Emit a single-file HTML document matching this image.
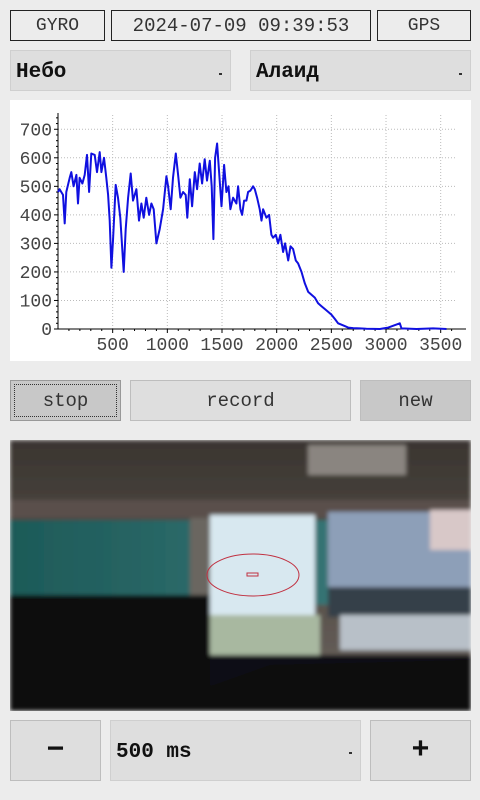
<!DOCTYPE html>
<html><head><meta charset="utf-8">
<style>
body{margin:0;width:480px;height:800px;background:#ececec;font-family:"Liberation Mono","DejaVu Sans Mono",monospace;position:relative;overflow:hidden}
.b{position:absolute;box-sizing:border-box;display:flex;align-items:center;justify-content:center;color:#333}
.lbl{border:1px solid #222;font-size:18px;background:#ececec}
.dd{background:#dedede;border:1px solid #cfcfcf;font-weight:bold;font-size:21px;justify-content:flex-start;padding-left:5px;padding-top:4px;color:#111}
.arr{position:absolute;right:8px;top:22px;width:3px;height:2px;background:#333}
.btn{border:1px solid #bdbdbd;font-size:19px}
</style></head><body>
<div class="b lbl" style="left:10px;top:10px;width:95px;height:31px">GYRO</div>
<div class="b lbl" style="left:111px;top:10px;width:260px;height:31px;font-size:19px">2024-07-09 09:39:53</div>
<div class="b lbl" style="left:377px;top:10px;width:94px;height:31px">GPS</div>
<div class="b dd" style="left:10px;top:50px;width:221px;height:41px">Небо<span class="arr"></span></div>
<div class="b dd" style="left:250px;top:50px;width:221px;height:41px">Алаид<span class="arr"></span></div>
<svg id="chart" style="position:absolute;left:10px;top:100px" width="461" height="261"></svg>
<div class="b btn" style="left:10px;top:380px;width:111px;height:41px;background:#c8c8c8;border:1px solid #999"><span style="border:1px dotted #333;position:absolute;left:3px;top:3px;right:3px;bottom:3px"></span>stop</div>
<div class="b btn" style="left:130px;top:380px;width:221px;height:41px;background:#dedede">record</div>
<div class="b btn" style="left:360px;top:380px;width:111px;height:41px;background:#c8c8c8">new</div>
<svg style="position:absolute;left:10px;top:440px" width="461" height="271">
<defs><linearGradient id="ceil" x1="0" y1="0" x2="0" y2="1"><stop offset="0" stop-color="#3a3530"/><stop offset="1" stop-color="#6e6660"/></linearGradient>
<linearGradient id="teal" x1="0" y1="0" x2="1" y2="0"><stop offset="0" stop-color="#1d5a58"/><stop offset="1" stop-color="#3f7f80"/></linearGradient>
<filter id="bl"><feGaussianBlur stdDeviation="2"/></filter></defs>
<g filter="url(#bl)">
<rect width="461" height="271" fill="url(#ceil)"/>
<rect x="298" y="5" width="98" height="30" fill="#8a8580"/>
<rect x="0" y="60" width="461" height="18" fill="#5a4f4c"/>
<rect x="0" y="80" width="461" height="85" fill="url(#teal)"/>
<rect x="180" y="78" width="30" height="100" fill="#6a6660"/>
<rect x="200" y="75" width="105" height="100" fill="#d8e8f0"/>
<rect x="318" y="72" width="143" height="75" fill="#8d9fb8"/>
<rect x="318" y="147" width="143" height="30" fill="#35404a"/>
<rect x="420" y="70" width="41" height="40" fill="#d8c8c8"/>
<rect x="200" y="175" width="110" height="40" fill="#a8b8a0"/>
<rect x="330" y="175" width="131" height="35" fill="#b8c0c8"/>
<rect x="0" y="155" width="200" height="116" fill="#0a0a0c"/>
<rect x="200" y="215" width="261" height="56" fill="#0e1014"/>
<polygon points="190,250 260,225 461,220 461,271 190,271" fill="#08090c"/>
</g>
<ellipse cx="243" cy="135" rx="46" ry="21" fill="none" stroke="#c03040" stroke-width="1"/>
<rect x="237" y="133" width="11" height="3" fill="none" stroke="#c03040" stroke-width="1"/>
</svg>
<div class="b btn" style="left:10px;top:720px;width:91px;height:61px;background:#dedede;font-size:30px;font-weight:bold;color:#111">−</div>
<div class="b dd" style="left:110px;top:720px;width:251px;height:61px">500 ms<span class="arr" style="top:31px"></span></div>
<div class="b btn" style="left:370px;top:720px;width:101px;height:61px;background:#dedede;font-size:30px;font-weight:bold;color:#111">+</div>
<script>
const xs=[0,15,46,61,76,107,122,143,168,183,198,223,244,265,284,305,336,357,381,397,421,442,458,473,488,503,528,549,570,601,619,641,665,686,717,741,763,784,808,833,854,875,900,930,961,991,1007,1031,1052,1077,1098,1119,1144,1168,1183,1205,1226,1251,1272,1296,1318,1342,1363,1388,1406,1421,1437,1455,1473,1495,1519,1540,1559,1577,1601,1632,1647,1668,1684,1702,1723,1739,1760,1784,1800,1821,1845,1861,1876,1906,1931,1952,1967,1992,2013,2034,2059,2077,2105,2126,2150,2175,2196,2227,2257,2288,2318,2349,2379,2410,2440,2471,2501,2532,2562,2593,2623,2654,2699,2760,2821,2943,3020,3126,3142,3279,3431,3553];
const ys=[480,490,470,370,480,530,550,500,540,440,530,510,540,610,480,615,610,550,620,550,600,530,470,380,215,310,505,460,390,200,350,460,545,450,490,380,440,390,460,400,440,420,300,350,420,535,500,420,530,615,540,460,480,470,390,525,430,550,490,580,510,595,520,590,500,315,600,650,550,430,575,480,500,420,460,440,500,420,400,450,450,480,485,500,490,460,420,380,420,390,400,330,320,330,300,330,270,300,240,290,280,240,230,200,160,130,120,110,90,80,70,60,50,35,20,15,10,5,3,2,1,0,5,20,2,0,2,0];
const yTicks=[0,100,200,300,400,500,600,700];
const xTicks=[500,1000,1500,2000,2500,3000,3500];
const NS="http://www.w3.org/2000/svg";
const svg=document.getElementById('chart');
const X0=48,X1=446,Y0=229,Y1=15;
const sx=v=>X0+v/3640*(X1-X0);
const sy=v=>Y0-v/750*(Y0-Y1);
function mk(t,a){const e=document.createElementNS(NS,t);for(const k in a)e.setAttribute(k,a[k]);svg.appendChild(e);return e;}
const bg=mk('rect',{x:0,y:0,width:461,height:261,fill:'#fff'});


yTicks.forEach(v=>{
 if(v>0){const g=mk('line',{x1:X0,x2:X1,y1:sy(v),y2:sy(v),stroke:'#bbb','stroke-dasharray':'1,2'});
 
 }
 const t=mk('text',{x:X0-6,y:sy(v)+6,'text-anchor':'end','font-size':18,fill:'#444','font-family':'Liberation Mono, monospace'});
 t.textContent=v;
 
 
});
for(let v=0;v<=740;v+=20){mk('line',{x1:X0-(v%100?2:4),x2:X0,y1:sy(v),y2:sy(v),stroke:'#000'});}
for(let v=100;v<=3600;v+=100){mk('line',{x1:sx(v),x2:sx(v),y1:Y0,y2:Y0+(v%500?2:4),stroke:'#000'});}
xTicks.forEach(v=>{
 const g=mk('line',{x1:sx(v),x2:sx(v),y1:Y0,y2:Y1,stroke:'#bbb','stroke-dasharray':'1,2'});
 
 
 const t=mk('text',{x:sx(v),y:Y0+21,'text-anchor':'middle','font-size':18,fill:'#444','font-family':'Liberation Mono, monospace'});
 t.textContent=v;
 
 
});
const ax=mk('path',{d:`M${X0},${Y1-2}V${Y0}H${X1+10}`,stroke:'#000',fill:'none'});


const line=mk('polyline',{points:xs.map((x,i)=>sx(x).toFixed(1)+','+sy(ys[i]).toFixed(1)).join(' '),fill:'none',stroke:'#1010e0','stroke-width':2,'stroke-linejoin':'round'});


</script>
</body></html>
